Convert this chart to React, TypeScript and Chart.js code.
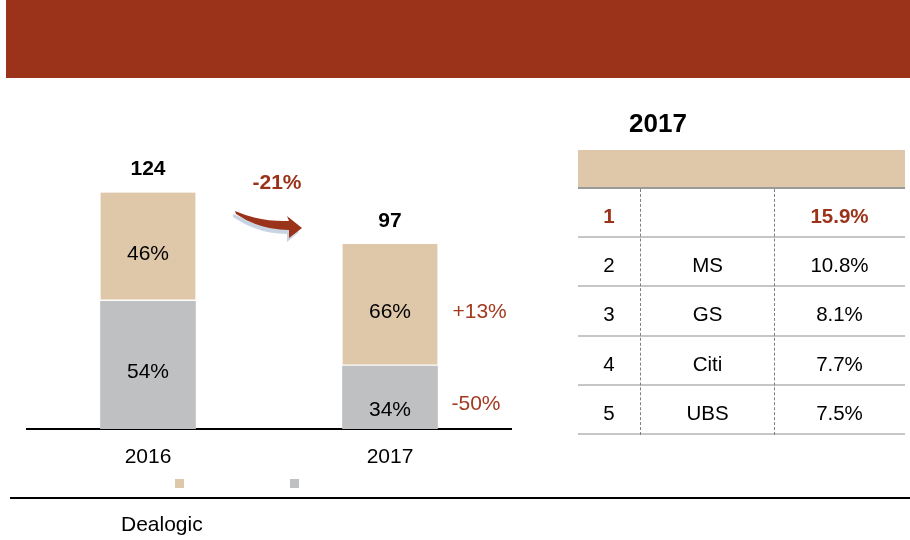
import React, { useEffect, useRef } from "react";
import { Chart, registerables } from "chart.js";

Chart.register(...registerables);

const categories = ["2016", "2017"];
const grayValues = [67, 33];
const tanValues = [57, 64];
const grayShareLabels = ["54%", "34%"];
const tanShareLabels = ["46%", "66%"];
const totalLabels = ["124", "97"];
const tanChangeLabel = "+13%";
const grayChangeLabel = "-50%";
const totalChangeLabel = "-21%";

const tableTitle = "2017";
const ranks = ["1", "2", "3", "4", "5"];
const banks = ["", "MS", "GS", "Citi", "UBS"];
const shares = ["15.9%", "10.8%", "8.1%", "7.7%", "7.5%"];
const sourceText = "Dealogic";

const RED = "#9a3319";
const TAN = "#dfc8aa";
const GRAY = "#bfc0c2";
const FONT = '"Liberation Sans", Arial, sans-serif';

const labelPlugin = {
  id: "barLabels",
  afterDatasetsDraw(chart: any) {
    const ctx = chart.ctx;
    const grayMeta = chart.getDatasetMeta(0);
    const tanMeta = chart.getDatasetMeta(1);
    const grayDy = [7, 13];
    ctx.save();
    ctx.textAlign = "center";
    ctx.textBaseline = "middle";
    ctx.font = `21px ${FONT}`;
    ctx.fillStyle = "#000";
    grayMeta.data.forEach((bar: any, i: number) => {
      ctx.fillText(grayShareLabels[i], bar.x, (bar.y + bar.base) / 2 + grayDy[i]);
    });
    tanMeta.data.forEach((bar: any, i: number) => {
      ctx.fillText(tanShareLabels[i], bar.x, (bar.y + bar.base) / 2 + 7);
    });
    ctx.font = `bold 21px ${FONT}`;
    tanMeta.data.forEach((bar: any, i: number) => {
      ctx.fillText(totalLabels[i], bar.x, bar.y - 23);
    });
    const tb = tanMeta.data[1];
    const gb = grayMeta.data[1];
    ctx.font = `21px ${FONT}`;
    ctx.fillStyle = "#a23a20";
    ctx.textAlign = "left";
    ctx.fillText(tanChangeLabel, tb.x + tb.width / 2 + 15, (tb.y + tb.base) / 2 + 7);
    ctx.fillText(grayChangeLabel, gb.x + gb.width / 2 + 14, (gb.y + gb.base) / 2 + 7);
    const b0 = tanMeta.data[0];
    const b1 = tanMeta.data[1];
    ctx.textAlign = "center";
    ctx.font = `bold 21px ${FONT}`;
    ctx.fillStyle = RED;
    ctx.fillText(totalChangeLabel, (b0.x + b1.x) / 2 + 8, b0.y - 9);
    ctx.restore();
  },
};

function BarChart() {
  const ref = useRef<HTMLCanvasElement>(null);
  useEffect(() => {
    if (!ref.current) return;
    const chart = new Chart(ref.current, {
      type: "bar",
      data: {
        labels: categories,
        datasets: [
          {
            label: "",
            data: grayValues,
            backgroundColor: GRAY,
            borderWidth: 0,
            barThickness: 95,
          },
          {
            label: "",
            data: tanValues,
            backgroundColor: TAN,
            borderColor: "#ffffff",
            borderWidth: { top: 0, left: 0, right: 0, bottom: 2 },
            borderSkipped: false,
            barThickness: 95,
          },
        ],
      },
      options: {
        responsive: false,
        animation: false,
        devicePixelRatio: 1,
        layout: { padding: { left: 27, right: 49, top: 143, bottom: 0 } },
        plugins: {
          legend: { display: false },
          tooltip: { enabled: false },
        },
        scales: {
          x: {
            stacked: true,
            grid: { display: false, drawTicks: false },
            border: { display: true, color: "#000", width: 2 },
            ticks: {
              color: "#000",
              font: { family: FONT, size: 21 },
              padding: 16,
            },
            afterFit: (s: any) => {
              s.height = 111;
            },
          },
          y: {
            stacked: true,
            display: false,
            min: 0,
            max: 150,
          },
        },
      },
      plugins: [labelPlugin],
    });
    return () => chart.destroy();
  }, []);
  return (
    <canvas
      ref={ref}
      width={560}
      height={540}
      style={{ position: "absolute", left: 0, top: 0, width: 560, height: 540 }}
    />
  );
}

export default function App() {
  const rowTop = 188;
  const rowH = 49.2;
  return (
    <div
      style={{
        position: "absolute",
        left: 0,
        top: 0,
        width: 910,
        height: 540,
        background: "#fff",
        overflow: "hidden",
        fontFamily: FONT,
        color: "#000",
      }}
    >
      <div style={{ position: "absolute", left: 6, top: 0, width: 904, height: 78, background: RED }} />
      <BarChart />
      <svg
        width={910}
        height={540}
        style={{ position: "absolute", left: 0, top: 0, pointerEvents: "none" }}
      >
        <path
          d="M233,214 Q258,226 287,225 L285,220 L299,232 L287,242 L287,234 Q258,234 233,217 Z"
          fill="#c9d4e2"
        />
        <path
          d="M235,211 Q260,222 289,221 L287,216 L302,228 L289,238 L289,230 Q260,230 236,214 Z"
          fill={RED}
        />
      </svg>
      <div style={{ position: "absolute", left: 175, top: 479, width: 9, height: 9, background: TAN }} />
      <div style={{ position: "absolute", left: 290, top: 479, width: 9, height: 9, background: GRAY }} />
      <div style={{ position: "absolute", left: 10, top: 497, width: 900, height: 2, background: "#000" }} />
      <div
        style={{
          position: "absolute",
          left: 121,
          top: 510,
          fontSize: 21,
          lineHeight: "28px",
          whiteSpace: "nowrap",
        }}
      >
        {sourceText}
      </div>

      <div
        style={{
          position: "absolute",
          left: 578,
          width: 160,
          top: 108,
          height: 30,
          lineHeight: "30px",
          fontSize: 26,
          fontWeight: "bold",
          textAlign: "center",
        }}
      >
        {tableTitle}
      </div>
      <div style={{ position: "absolute", left: 578, top: 150, width: 327, height: 38, background: TAN }} />
      <div style={{ position: "absolute", left: 578, top: 187, width: 327, height: 2, background: "#9a9a9a" }} />
      {ranks.map((r, i) => {
        const top = rowTop + i * rowH;
        const isFirst = i === 0;
        const cellStyle: React.CSSProperties = {
          position: "absolute",
          top: top + 3,
          height: rowH,
          lineHeight: `${rowH}px`,
          fontSize: 20.5,
          textAlign: "center",
          color: isFirst ? RED : "#000",
          fontWeight: isFirst ? "bold" : "normal",
          whiteSpace: "nowrap",
        };
        return (
          <React.Fragment key={i}>
            <div style={{ ...cellStyle, left: 579, width: 60 }}>{r}</div>
            <div style={{ ...cellStyle, left: 641, width: 133 }}>{banks[i]}</div>
            <div style={{ ...cellStyle, left: 774, width: 131 }}>{shares[i]}</div>
            <div
              style={{
                position: "absolute",
                left: 578,
                top: top + rowH - 1,
                width: 327,
                height: 2,
                background: "#c6c6c6",
              }}
            />
          </React.Fragment>
        );
      })}
      <div
        style={{
          position: "absolute",
          left: 640,
          top: 189,
          height: 246,
          width: 0,
          borderLeft: "1px dashed #808080",
        }}
      />
      <div
        style={{
          position: "absolute",
          left: 774,
          top: 189,
          height: 246,
          width: 0,
          borderLeft: "1px dashed #808080",
        }}
      />
    </div>
  );
}
